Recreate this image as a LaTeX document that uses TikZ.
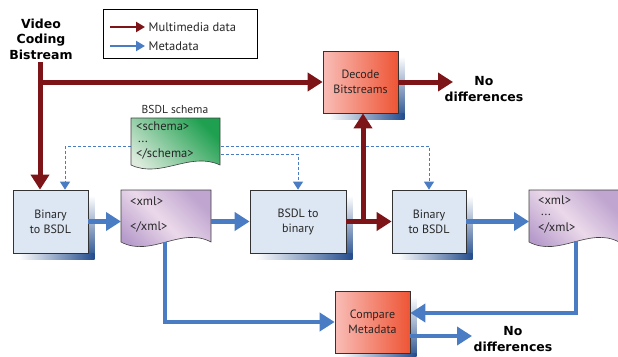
\documentclass[tikz,border=0pt]{standalone}
\usepackage{fontspec}
\setmainfont{PT Sans}
\newfontfamily\heavyfont{DejaVu Sans}
\usetikzlibrary{arrows.meta,calc}
\definecolor{mmred}{HTML}{7D1418}
\definecolor{mdblue}{HTML}{4A7CC4}
\definecolor{boxblue}{HTML}{DDE7F3}
\definecolor{shadowblue}{HTML}{234C8C}
\definecolor{redL}{HTML}{F9BDB7}
\definecolor{redR}{HTML}{EE5535}
\definecolor{greenD}{HTML}{1FA050}
\definecolor{greenL}{HTML}{DDEBDD}
\definecolor{purpD}{HTML}{B79CCB}
\definecolor{purpL}{HTML}{EBD9EA}
\pgfdeclarehorizontalshading{greendiag}{100bp}{color(0bp)=(greenL); color(25bp)=(greenL); color(75bp)=(greenD); color(100bp)=(greenD)}
\pgfdeclarehorizontalshading{purpdiag}{100bp}{color(0bp)=(purpD); color(25bp)=(purpD); color(50bp)=(purpL); color(75bp)=(purpD!85!purpL); color(100bp)=(purpD!85!purpL)}
\pgfdeclarelayer{bg}
\pgfsetlayers{bg,main}
\tikzset{
  boxtext/.style={font=\fontsize{12}{15}\selectfont, align=center, text=black!85},
  procbox/.style={boxtext, draw=black!80, line width=0.7pt, fill=boxblue, inner sep=0pt},
  redbox/.style={boxtext, draw=black!80, line width=0.7pt, left color=redL, right color=redR, inner sep=0pt},
  docbox/.style={inner sep=0pt, outer sep=0pt},
  docline/.style={draw=black!75, line width=0.6pt},
  doctext/.style={font=\fontsize{12.5}{14}\selectfont, text=black!85, anchor=west, inner sep=0pt},
  legtext/.style={font=\fontsize{12.5}{14}\selectfont, text=black!85, anchor=west, inner sep=0pt},
  heavytext/.style={font=\heavyfont\bfseries\fontsize{12.5}{15.5}\selectfont, align=center, inner sep=0pt},
  redarrow/.style={draw=mmred, line width=5pt, -{Triangle[length=15pt,width=18pt]}},
  bluearrow/.style={draw=mdblue, line width=4.5pt, -{Triangle[length=15pt,width=18pt]}},
  dasharrow/.style={draw=mdblue, line width=0.9pt, dash pattern=on 3pt off 2pt, -{Triangle[length=8pt,width=10pt]}},
  legred/.style={draw=mmred, line width=2.5pt, -{Triangle[length=9pt,width=10pt]}},
  legblue/.style={draw=mdblue, line width=2.5pt, -{Triangle[length=9pt,width=10pt]}},
}
\begin{document}
\begin{tikzpicture}[x=1pt,y=-1pt]
\useasboundingbox (0,0) rectangle (618,356);

% legend
\node[draw=black, line width=0.8pt, minimum width=154pt, minimum height=49pt, inner sep=0pt, outer sep=0pt] (leg) at (180,33.5) {};
\coordinate (lr1) at (110,27); \coordinate (lr2) at (145,27);
\coordinate (lb1) at (110,46); \coordinate (lb2) at (145,46);
\draw[legred] (lr1) -- (lr2);
\draw[legblue] (lb1) -- (lb2);
\node[legtext] (legt1) at (148.5,27) {Multimedia data};
\node[legtext] (legt2) at (148.5,46) {Metadata};

% title
\node[heavytext] (vcb) at (41,39) {Video\\Coding\\Bistream};
\coordinate (vstart) at (40,62);
\coordinate (j1) at (40,82);

% process boxes
\node[procbox, minimum width=75pt, minimum height=63pt] (b2x1) at (50.5,221.5) {Binary\\to BSDL};
\node[procbox, minimum width=96pt, minimum height=63pt] (x2b) at (298,221.5) {BSDL to\\binary};
\node[procbox, minimum width=74pt, minimum height=63pt] (b2x2) at (429,221.5) {Binary\\to BSDL};
\node[redbox, minimum width=75pt, minimum height=62pt] (dec) at (360.5,82) {Decode\\Bitstreams};
\node[redbox, minimum width=75pt, minimum height=62pt] (cmp) at (372.5,322) {Compare\\Metadata};

\begin{pgfonlayer}{bg}
\foreach \n in {b2x1,x2b,b2x2,dec,cmp}{
  \shade[top color=white, bottom color=shadowblue]
    ($(\n.north east)+(0,6)$) rectangle ($(\n.south east)+(6,6)$);
  \shade[left color=white, right color=shadowblue]
    ($(\n.south west)+(6,0)$) rectangle ($(\n.south east)+(6,6)$);
}
\end{pgfonlayer}

% outputs
\node[heavytext] (nd1) at (484,89) {No\\differences};
\node[heavytext] (nd2) at (513,339) {No\\differences};
\coordinate (nd1tip) at (453,82);
\coordinate (nd2tip) at (472,336);

% schema document
\node[docbox, minimum width=89pt, minimum height=47pt] (sch) at (175.5,141.5) {};
\node[legtext, font=\fontsize{11.5}{13}\selectfont, anchor=center] (schl) at (175,109) {BSDL schema};

% dashed metadata lines (behind the schema document)
\draw[dasharrow] ([yshift=-4.5pt]sch.center) -| ([xshift=14.5pt]b2x1.north);
\draw[dasharrow] ([yshift=-4.5pt]sch.center) -| (b2x2.north);
\draw[dasharrow] ([yshift=-12.5pt]sch.center) -| (x2b.north);

\shadedraw[docline, shading=greendiag, shading angle=45]
  (sch.north west) -- (sch.north east) -- (sch.south east)
  .. controls +(-30,-14) and +(30,14) .. (sch.south west) -- cycle;
\node[doctext] (sch1) at (136,126) {<schema>};
\node[doctext] (sch2) at (138,141.5) {...};
\node[doctext] (sch3) at (136,154) {</schema>};

% xml documents
\node[docbox, minimum width=90pt, minimum height=52pt] (doc1) at (166,216) {};
\node[docbox, minimum width=90pt, minimum height=52pt] (doc2) at (574,216) {};
\foreach \d in {doc1,doc2}{
  \shadedraw[docline, shading=purpdiag, shading angle=45]
    (\d.north west) -- (\d.north east) -- (\d.south east)
    .. controls +(-30,-16) and +(30,16) .. (\d.south west) -- cycle;
}
\node[doctext] (d1a) at (130,201) {<xml>};
\node[doctext] (d1b) at (130,227) {</xml>};
\node[doctext] (d2a) at (538,200) {<xml>};
\node[doctext] (d2b) at (541,215) {...};
\node[doctext] (d2c) at (538,228) {</xml>};
\coordinate (d1out) at (165,242);
\coordinate (d2out) at (576,241);
\coordinate (j2) at (363,221.5);

% multimedia data flow
\draw[redarrow] (vstart) -- (vstart |- b2x1.north);
\draw[redarrow] (j1) -- (dec.west);
\draw[redarrow] (dec.east) -- (nd1tip);
\draw[redarrow] (x2b.east) -- (b2x2.west);
\draw[redarrow] (j2) -- (j2 |- dec.south);

% metadata flow
\draw[bluearrow] (b2x1.east) -- (doc1.west |- b2x1.east);
\draw[bluearrow] (doc1.east |- x2b.west) -- (x2b.west);
\draw[bluearrow] (b2x2.east) -- (doc2.west |- b2x2.east);
\draw[bluearrow] (d1out) |- (cmp.west);
\draw[bluearrow] (d2out) |- ([yshift=9pt]cmp.east);
\draw[bluearrow] ([yshift=-14pt]cmp.east) -- (nd2tip);
\end{tikzpicture}
\end{document}
